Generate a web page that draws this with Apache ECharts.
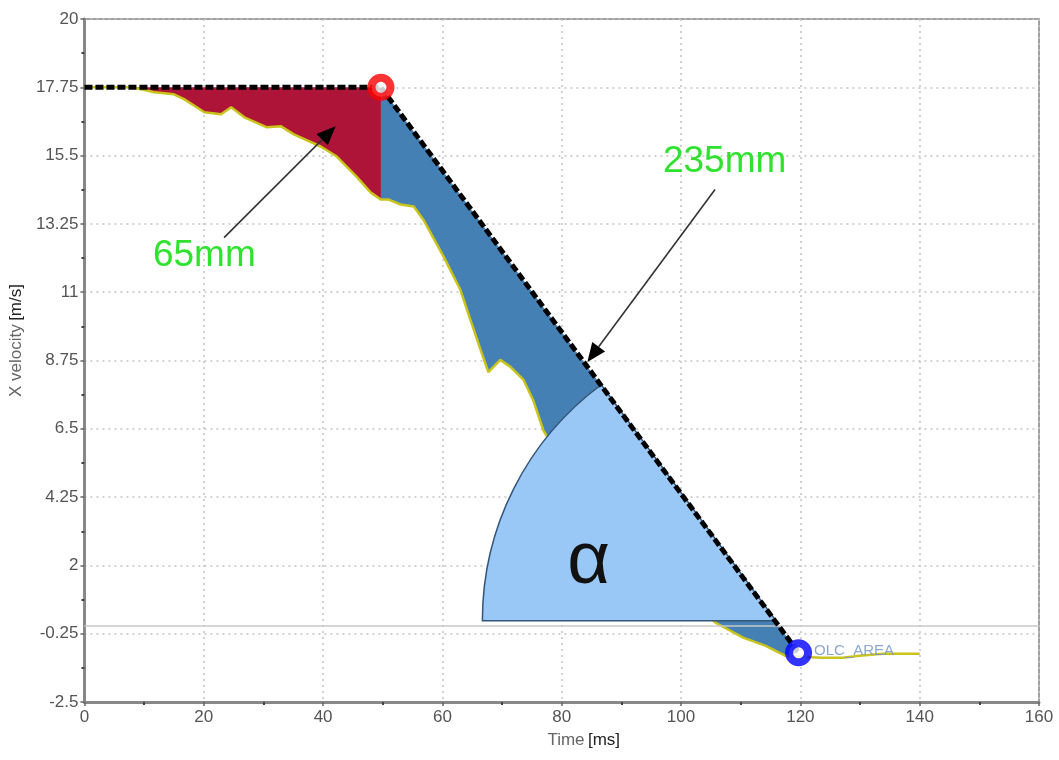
<!DOCTYPE html>
<html>
<head>
<meta charset="utf-8">
<script src="https://cdn.jsdelivr.net/npm/echarts@6/dist/echarts.min.js"></script>
<style>
html,body{margin:0;padding:0;background:#fff;}
#chart{width:1059px;height:760px;}
</style>
</head>
<body>
<div id="chart"></div>
<script>
// ---- data ----
const times = [0, 4, 8, 11.7, 15, 16.7, 20.1, 22.9, 24.6, 26.8, 30.6, 32.9, 35.1, 39.6, 42.3, 45.6, 48, 49.7, 51, 53, 55.2, 56.8, 60.2, 63, 64.7, 66.4, 67.7, 69.7, 71.4, 73.6, 75.2, 76.9, 77.7, 80, 85, 90, 95, 100, 103, 105.8, 110.4, 114.2, 117.5, 119.9, 123.7, 127.1, 129.9, 133.8, 140];
const velocity = [17.75, 17.75, 17.75, 17.59, 17.52, 17.36, 16.93, 16.86, 17.09, 16.76, 16.43, 16.47, 16.2, 15.8, 15.47, 14.81, 14.28, 14.05, 14.05, 13.89, 13.82, 13.39, 12.17, 11.08, 10.09, 9.1, 8.37, 8.77, 8.54, 8.11, 7.45, 6.46, 6.19, 5.6, 4.3, 3.2, 2.1, 1.2, 0.6, 0.11, -0.38, -0.65, -0.98, -1.01, -1.04, -1.04, -0.98, -0.91, -0.91];
const xTicks = [0, 20, 40, 60, 80, 100, 120, 140, 160];
const yTicks = [-2.5, -0.25, 2, 4.25, 6.5, 8.75, 11, 13.25, 15.5, 17.75, 20];
const redStartTime = 8;               // red area begins
const startPoint = [49.7, 17.75];     // red marker
const endPoint = [119.7, -0.88];      // blue marker
const flatStart = [0, 17.75];
const sectorCenter = [115.9, 0.18];
const sectorRadiusMs = 49.2;
const arrows = [
  { from: [23.4, 12.8], to: [42.1, 16.47] },
  { from: [105.7, 14.38], to: [84.3, 8.7] }
];
const labels = [
  { text: '65mm', at: [20.1, 12.2], kind: 'green' },
  { text: '235mm', at: [107.3, 15.3], kind: 'green' },
  { text: 'α', at: [84.5, 2.1], kind: 'alpha' },
  { text: 'OLC_AREA', at: [122.3, -0.82], kind: 'olc' }
];

// ---- derived point lists ----
const curve = times.map((t, i) => [t, velocity[i]]);
const redPoly = curve.filter(p => p[0] >= redStartTime && p[0] <= startPoint[0]).concat([startPoint]);
const bluePoly = [startPoint].concat(curve.filter(p => p[0] >= startPoint[0] && p[0] <= endPoint[0])).concat([endPoint]);

const chart = echarts.init(document.getElementById('chart'));
const tickFont = 'Liberation Sans Narrow, Liberation Sans, Arial, sans-serif';

function polySeries(points, color, z) {
  return {
    type: 'custom', z: z, silent: true,
    data: [[points[0][0], points[0][1]]],
    renderItem: function (params, api) {
      return { type: 'polygon', shape: { points: points.map(p => api.coord(p)) }, style: { fill: color } };
    }
  };
}

const option = {
  animation: false,
  backgroundColor: '#ffffff',
  grid: { left: 80, right: 20, top: 19, bottom: 58, show: true, borderColor: '#a0a0a0', borderWidth: 2, backgroundColor: 'transparent' },
  xAxis: {
    type: 'value', min: xTicks[0], max: xTicks[xTicks.length - 1], interval: 20,
    name: '{a|Time} {b|[ms]}', nameLocation: 'middle', nameGap: 30,
    nameTextStyle: { padding: [0, 0, 0, 44], rich: { a: { fontFamily: tickFont, fontSize: 17, color: '#666' }, b: { fontFamily: tickFont, fontSize: 17, color: '#222' } } },
    axisLine: { show: true, onZero: false, lineStyle: { color: '#888', width: 3 } },
    axisTick: { show: true, length: 4, lineStyle: { color: '#666', width: 1.5 } },
    minorTick: { show: true, splitNumber: 2, length: 3, lineStyle: { color: '#444', width: 2 } },
    axisLabel: { fontFamily: tickFont, fontSize: 17, color: '#555', margin: 7 },
    splitLine: { show: true, lineStyle: { color: '#c4c4c4', width: 1.5, type: [2, 4] } }
  },
  yAxis: {
    type: 'value', min: yTicks[0], max: yTicks[yTicks.length - 1], interval: 2.25,
    name: '{a|X velocity} {b|[m/s]}', nameLocation: 'middle', nameGap: 58, nameRotate: 90,
    nameTextStyle: { padding: [0, 0, 0, 40], rich: { a: { fontFamily: tickFont, fontSize: 17, color: '#666' }, b: { fontFamily: tickFont, fontSize: 17, color: '#222' } } },
    axisLine: { show: true, onZero: false, lineStyle: { color: '#888', width: 3 } },
    axisTick: { show: true, length: 4, lineStyle: { color: '#666', width: 1.5 } },
    minorTick: { show: true, splitNumber: 2, length: 3, lineStyle: { color: '#444', width: 2 } },
    axisLabel: { fontFamily: tickFont, fontSize: 17, color: '#555', margin: 6,
      formatter: v => String(+v.toFixed(2)) },
    splitLine: { show: true, lineStyle: { color: '#c4c4c4', width: 1.5, type: [2, 4] } }
  },
  series: [
    polySeries(redPoly, '#ad1438', 2),
    polySeries(bluePoly, '#4580b4', 2),
    {
      type: 'line', z: 3, data: curve, symbol: 'none', silent: true,
      lineStyle: { color: '#c9c41c', width: 2.5 },
      markLine: {
        silent: true, symbol: 'none', label: { show: false },
        lineStyle: { color: '#c8c8c8', width: 1.5, type: 'solid' },
        data: [{ yAxis: 0 }]
      }
    },
    {
      type: 'custom', z: 4, silent: true,
      data: [[sectorCenter[0], sectorCenter[1]]],
      renderItem: function (params, api) {
        const c = api.coord(sectorCenter);
        const r = api.size([sectorRadiusMs, 0])[0];
        const p = api.coord(startPoint);
        const ang = Math.atan2(p[1] - c[1], p[0] - c[0]) + Math.PI * 2;
        return {
          type: 'sector',
          shape: { cx: c[0], cy: c[1], r: r, r0: 0, startAngle: Math.PI, endAngle: ang, clockwise: true },
          style: { fill: '#99c8f6', stroke: '#34557a', lineWidth: 1.5 }
        };
      }
    },
    {
      type: 'line', z: 5, silent: true, symbol: 'none',
      data: [flatStart, startPoint, endPoint],
      lineStyle: { color: '#000', width: 5, type: [8, 3] }
    },
    {
      type: 'scatter', z: 6, silent: true, data: [startPoint], symbol: 'circle', symbolSize: 19,
      itemStyle: { color: '#fff', borderColor: '#ff0000', borderWidth: 8 }
    },
    {
      type: 'scatter', z: 6, silent: true, data: [endPoint], symbol: 'circle', symbolSize: 19,
      itemStyle: { color: '#fff', borderColor: '#0000ff', borderWidth: 8 }
    },
    {
      type: 'custom', z: 7, silent: true,
      data: arrows.map(a => [a.to[0], a.to[1]]),
      renderItem: function (params, api) {
        const a = arrows[params.dataIndex];
        const p0 = api.coord(a.from), p1 = api.coord(a.to);
        const dx = p1[0] - p0[0], dy = p1[1] - p0[1];
        const len = Math.sqrt(dx * dx + dy * dy);
        const ux = dx / len, uy = dy / len;
        const hl = 19, hw = 8;
        const bx = p1[0] - ux * hl, by = p1[1] - uy * hl;
        return {
          type: 'group',
          children: [
            { type: 'line', shape: { x1: p0[0], y1: p0[1], x2: bx, y2: by }, style: { stroke: '#333', lineWidth: 1.6 } },
            { type: 'polygon', shape: { points: [p1, [bx - uy * hw, by + ux * hw], [bx + uy * hw, by - ux * hw]] }, style: { fill: '#000' } }
          ]
        };
      }
    },
    {
      type: 'custom', z: 8, silent: true,
      data: labels.map(l => [l.at[0], l.at[1]]),
      renderItem: function (params, api) {
        const l = labels[params.dataIndex];
        const p = api.coord(l.at);
        let style;
        if (l.kind === 'green') {
          style = { text: l.text, x: p[0], y: p[1], align: 'center', verticalAlign: 'middle', fill: '#2ee22e', font: '37px Liberation Sans, Arial, sans-serif' };
        } else if (l.kind === 'alpha') {
          style = { text: l.text, x: p[0], y: p[1], align: 'center', verticalAlign: 'middle', fill: '#111', font: '74px Liberation Sans, Arial, sans-serif' };
        } else {
          style = { text: l.text, x: p[0], y: p[1], align: 'left', verticalAlign: 'middle', fill: 'rgba(120,150,200,0.85)', font: '15px Liberation Sans, Arial, sans-serif' };
        }
        return { type: 'text', style: style };
      }
    }
  ]
};
chart.setOption(option);
</script>
</body>
</html>
